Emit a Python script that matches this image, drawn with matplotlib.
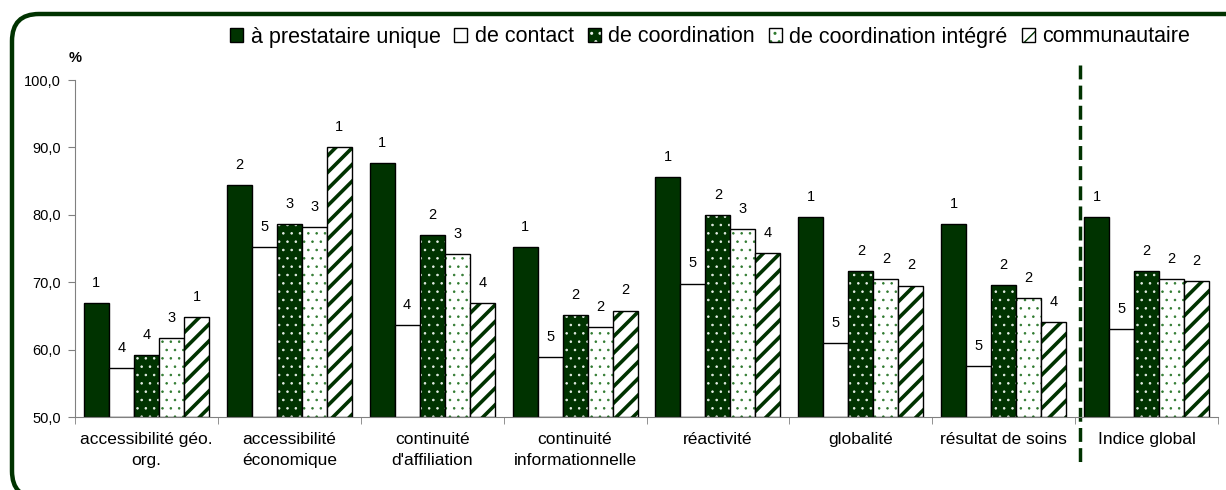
import matplotlib
matplotlib.use("Agg")
import matplotlib.pyplot as plt
import numpy as np
from matplotlib.patches import FancyBboxPatch
from matplotlib.lines import Line2D
from matplotlib.ticker import FuncFormatter, FixedLocator
from matplotlib.transforms import IdentityTransform
from matplotlib.legend_handler import HandlerTuple

plt.rcParams['font.family'] = ['Liberation Sans', 'DejaVu Sans']

categories = ["accessibilité géo.\norg.", "accessibilité\néconomique", "continuité\nd'affiliation",
              "continuité\ninformationnelle", "réactivité", "globalité", "résultat de soins",
              "Indice global"]
series_names = ["à prestataire unique", "de contact", "de coordination",
                "de coordination intégré", "communautaire"]

prestataire = [66.9, 84.4, 87.7, 75.2, 85.6, 79.7, 78.6, 79.7]
contact = [57.2, 75.2, 63.6, 58.9, 69.8, 61.0, 57.6, 63.0]
coordination = [59.2, 78.6, 77.0, 65.1, 79.9, 71.6, 69.6, 71.7]
integre = [61.7, 78.2, 74.2, 63.3, 77.9, 70.5, 67.6, 70.5]
communautaire = [64.8, 90.0, 66.9, 65.8, 74.3, 69.5, 64.1, 70.2]

rank_prestataire = [1, 2, 1, 1, 1, 1, 1, 1]
rank_contact = [4, 5, 4, 5, 5, 5, 5, 5]
rank_coordination = [4, 3, 2, 2, 2, 2, 2, 2]
rank_integre = [3, 3, 3, 2, 3, 2, 2, 2]
rank_communautaire = [1, 1, 4, 2, 4, 2, 4, 2]

values = [prestataire, contact, coordination, integre, communautaire]
ranks = [rank_prestataire, rank_contact, rank_coordination, rank_integre, rank_communautaire]

GREEN = '#003300'
DOT_GREEN = '#2f7a2f'
# (face, hatch, hatch colour, hatch linewidth)
styles = [
    (GREEN, None, GREEN, 1.0),
    ('white', None, 'white', 1.0),
    (GREEN, '..', '#e8f0e8', 0.6),
    ('white', '..', DOT_GREEN, 0.6),
    ('white', '//', GREEN, 2.6),
]

W, H = 1226, 490
fig = plt.figure(figsize=(W / 100, H / 100), dpi=100)
ax = fig.add_axes([75 / W, (H - 417) / H, (1218 - 75) / W, (417 - 80) / H])

# rounded frame, in pixels (runs off the right and bottom edges)
frame = FancyBboxPatch((12, -8), 1260, H - 14 + 8,
                       boxstyle="round,pad=0,rounding_size=27",
                       transform=IdentityTransform(), facecolor='none',
                       edgecolor=GREEN, linewidth=3.2)
fig.patches.append(frame)

x = np.arange(len(categories))
bw = 0.175
handles = []
for i, (vals, rk, (face, hatch, hcol, hlw)) in enumerate(zip(values, ranks, styles)):
    pos = x + (i - 2) * bw
    with plt.rc_context({'hatch.linewidth': hlw, 'hatch.color': hcol}):
        fill = ax.bar(pos, np.array(vals) - 50, bw, bottom=50, color=face,
                      hatch=hatch, edgecolor=hcol, linewidth=0)
    for p in fill:
        if hasattr(p, 'set_hatch_linewidth'):
            p.set_hatch_linewidth(hlw)
    outline = ax.bar(pos, np.array(vals) - 50, bw, bottom=50, fill=False,
                     edgecolor='black', linewidth=1.0)
    handles.append((fill[0], outline[0]))
    for px, v, r in zip(pos, vals, rk):
        ax.annotate(str(r), (px, v), xytext=(0, 14.5), textcoords='offset points',
                    ha='center', va='center', fontsize=10.5)

ax.set_xlim(-0.5, len(categories) - 0.5)
ax.set_ylim(50, 100)
ax.set_yticks(np.arange(50, 101, 10))
ax.yaxis.set_major_formatter(FuncFormatter(lambda v, p: f"{v:.1f}".replace('.', ',')))
ax.set_xticks(x)
ax.set_xticklabels(categories, fontsize=12.5, linespacing=1.45)
ax.xaxis.set_minor_locator(FixedLocator(np.arange(-0.5, len(categories), 1.0)))
ax.tick_params(axis='x', which='major', length=0, pad=11)
ax.tick_params(axis='x', which='minor', length=5, color='#808080', direction='out')
ax.tick_params(axis='y', length=5, color='#808080', labelsize=10.5, pad=5)
for s in ['top', 'right']:
    ax.spines[s].set_visible(False)
for s in ['left', 'bottom']:
    ax.spines[s].set_color('#808080')

# separator before the global index
sep = Line2D([6.535, 6.535], [1.045, -0.142], transform=ax.get_xaxis_transform(),
             color=GREEN, linewidth=2.5, linestyle=(0, (4, 1.8)), clip_on=False)
ax.add_line(sep)

fig.text(75 / W, 1 - 58 / H, "%", fontsize=10.5, fontweight='bold', ha='center', va='center')

fig.legend(handles, series_names, loc='center', bbox_to_anchor=(710 / W, 1 - 37 / H),
           ncol=5, frameon=False, fontsize=15.5, handlelength=0.6, handleheight=0.6,
           handletextpad=0.35, columnspacing=0.65, borderpad=0,
           handler_map={tuple: HandlerTuple(ndivide=1)})

fig.savefig("out.png", dpi=100)
